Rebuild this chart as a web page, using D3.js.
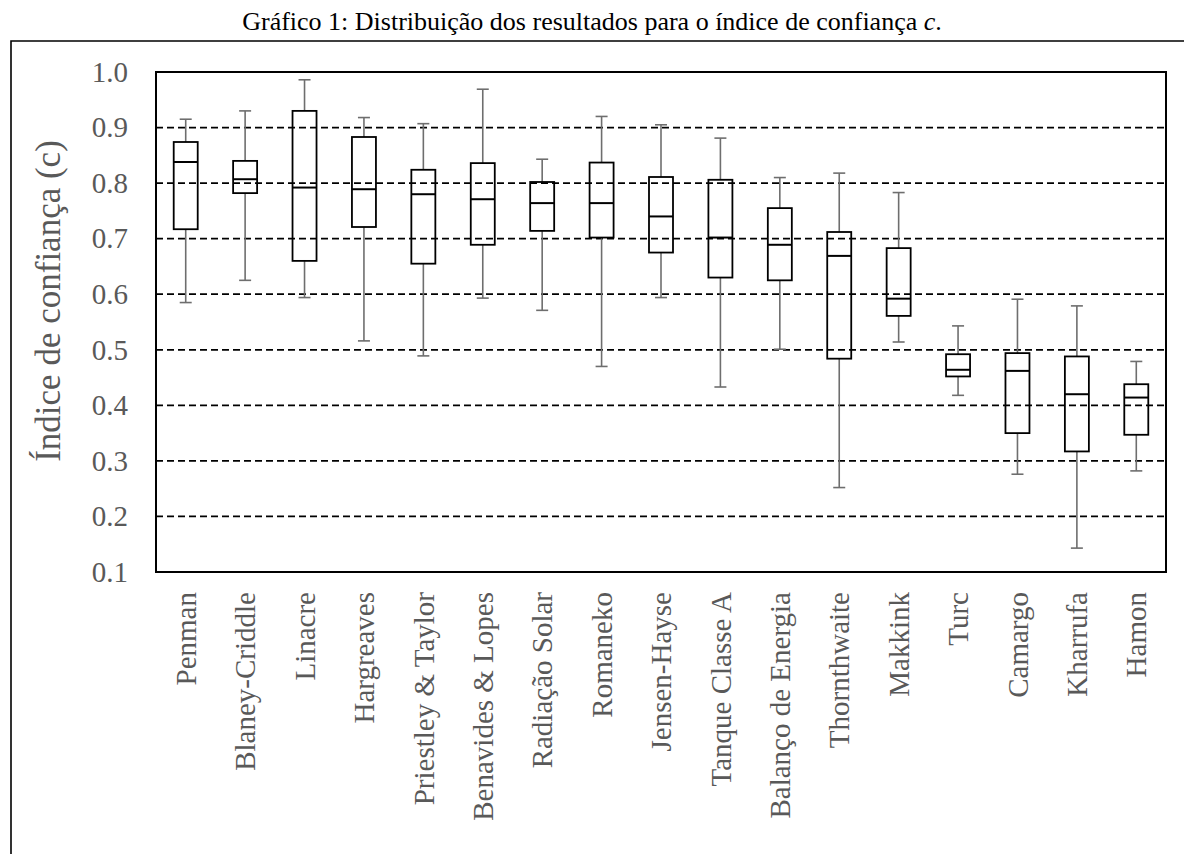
<!DOCTYPE html>
<html>
<head>
<meta charset="utf-8">
<script src="https://cdn.jsdelivr.net/npm/d3@7"></script>
<style>
body { margin: 0; background: #fff; }
svg { display: block; }
</style>
</head>
<body>
<svg id="chart" width="1184" height="854"></svg>
<script>
"use strict";

// metodos, na ordem do grafico
var categories = ["Penman", "Blaney-Criddle", "Linacre", "Hargreaves", "Priestley & Taylor",
	"Benavides & Lopes", "Radiação Solar", "Romaneko", "Jensen-Hayse", "Tanque Classe A",
	"Balanço de Energia", "Thornthwaite", "Makkink", "Turc", "Camargo", "Kharrufa", "Hamon"];

var whiskerLow = [0.585, 0.625, 0.594, 0.516, 0.489, 0.593, 0.571, 0.470, 0.594, 0.433, 0.501, 0.252, 0.514, 0.418, 0.276, 0.143, 0.282];
var q1 = [0.717, 0.782, 0.660, 0.721, 0.655, 0.689, 0.714, 0.702, 0.675, 0.630, 0.625, 0.484, 0.561, 0.452, 0.350, 0.317, 0.347];
var median = [0.838, 0.807, 0.792, 0.789, 0.780, 0.771, 0.764, 0.764, 0.740, 0.702, 0.689, 0.669, 0.592, 0.464, 0.462, 0.420, 0.414];
var q3 = [0.874, 0.840, 0.930, 0.883, 0.824, 0.836, 0.802, 0.837, 0.811, 0.806, 0.755, 0.712, 0.683, 0.492, 0.494, 0.488, 0.438];
var whiskerHigh = [0.915, 0.930, 0.986, 0.918, 0.907, 0.969, 0.843, 0.920, 0.905, 0.881, 0.810, 0.818, 0.783, 0.543, 0.591, 0.579, 0.479];

var yTicks = [0.1, 0.2, 0.3, 0.4, 0.5, 0.6, 0.7, 0.8, 0.9, 1.0];
var gridValues = [0.2, 0.3, 0.4, 0.5, 0.6, 0.7, 0.8, 0.9];

var titleText = "Gráfico 1: Distribuição dos resultados para o índice de confiança ";
var yLabel = "Índice de confiança (c)";

var serif = "'Liberation Serif', 'Times New Roman', serif";
var plot = { left: 156, top: 72, right: 1166, bottom: 572 };

var svg = d3.select("#chart");

var x = d3.scaleBand().domain(categories).range([plot.left, plot.right]).paddingInner(0).paddingOuter(0);
var y = d3.scaleLinear().domain([0.1, 1.0]).range([plot.bottom, plot.top]);

var boxW = 24, capW = 12;

// titulo e moldura externa
var title = svg.append("text")
	.attr("x", 592).attr("y", 30)
	.attr("text-anchor", "middle")
	.attr("font-family", serif).attr("font-size", 26)
	.attr("fill", "#000")
	.text(titleText);
title.append("tspan").attr("font-style", "italic").text("c");
title.append("tspan").text(".");

svg.append("path")
	.attr("d", "M11,854 L11,41 L1184,41")
	.attr("fill", "none").attr("stroke", "#000").attr("stroke-width", 1.6);

// linhas de grade tracejadas
svg.append("g").selectAll("line").data(gridValues).enter().append("line")
	.attr("x1", plot.left).attr("x2", plot.right)
	.attr("y1", function (d) { return y(d); })
	.attr("y2", function (d) { return y(d); })
	.attr("stroke", "#000").attr("stroke-width", 1.8)
	.attr("stroke-dasharray", "7,4");

// eixo y
var yAxis = svg.append("g")
	.attr("transform", "translate(" + plot.left + ",0)")
	.call(d3.axisLeft(y).tickValues(yTicks).tickSize(0).tickPadding(28).tickFormat(d3.format(".1f")));
yAxis.select(".domain").remove();
yAxis.selectAll("text")
	.attr("font-family", serif).attr("font-size", 29).attr("fill", "#595959");

// eixo x (rotulos verticais)
var xAxis = svg.append("g")
	.attr("transform", "translate(0," + plot.bottom + ")")
	.call(d3.axisBottom(x).tickSize(0));
xAxis.select(".domain").remove();
xAxis.selectAll("text")
	.attr("font-family", serif).attr("font-size", 29).attr("fill", "#595959")
	.attr("text-anchor", "end")
	.attr("dy", "0.35em")
	.attr("transform", "translate(0,20) rotate(-90)")
	.attr("x", 0).attr("y", 0);

svg.append("text")
	.attr("transform", "translate(60,301) rotate(-90)")
	.attr("text-anchor", "middle")
	.attr("font-family", serif).attr("font-size", 35).attr("fill", "#595959")
	.text(yLabel);

// caixas
var idx = d3.range(categories.length);
var boxes = svg.append("g").selectAll("g").data(idx).enter().append("g")
	.attr("transform", function (i) { return "translate(" + (x(categories[i]) + x.bandwidth() / 2) + ",0)"; });

boxes.append("line")
	.attr("x1", 0).attr("x2", 0)
	.attr("y1", function (i) { return y(whiskerHigh[i]); })
	.attr("y2", function (i) { return y(q3[i]); })
	.attr("stroke", "#6e6e6e").attr("stroke-width", 1.6);
boxes.append("line")
	.attr("x1", 0).attr("x2", 0)
	.attr("y1", function (i) { return y(q1[i]); })
	.attr("y2", function (i) { return y(whiskerLow[i]); })
	.attr("stroke", "#6e6e6e").attr("stroke-width", 1.6);
boxes.append("line")
	.attr("x1", -capW / 2).attr("x2", capW / 2)
	.attr("y1", function (i) { return y(whiskerHigh[i]); })
	.attr("y2", function (i) { return y(whiskerHigh[i]); })
	.attr("stroke", "#6e6e6e").attr("stroke-width", 1.6);
boxes.append("line")
	.attr("x1", -capW / 2).attr("x2", capW / 2)
	.attr("y1", function (i) { return y(whiskerLow[i]); })
	.attr("y2", function (i) { return y(whiskerLow[i]); })
	.attr("stroke", "#6e6e6e").attr("stroke-width", 1.6);

boxes.append("rect")
	.attr("x", -boxW / 2).attr("width", boxW)
	.attr("y", function (i) { return y(q3[i]); })
	.attr("height", function (i) { return y(q1[i]) - y(q3[i]); })
	.attr("fill", "none").attr("stroke", "#000").attr("stroke-width", 1.8);
boxes.append("line")
	.attr("x1", -boxW / 2).attr("x2", boxW / 2)
	.attr("y1", function (i) { return y(median[i]); })
	.attr("y2", function (i) { return y(median[i]); })
	.attr("stroke", "#000").attr("stroke-width", 2);

// borda da area do grafico
svg.append("rect")
	.attr("x", plot.left).attr("y", plot.top)
	.attr("width", plot.right - plot.left).attr("height", plot.bottom - plot.top)
	.attr("fill", "none").attr("stroke", "#000").attr("stroke-width", 2);
</script>
</body>
</html>
